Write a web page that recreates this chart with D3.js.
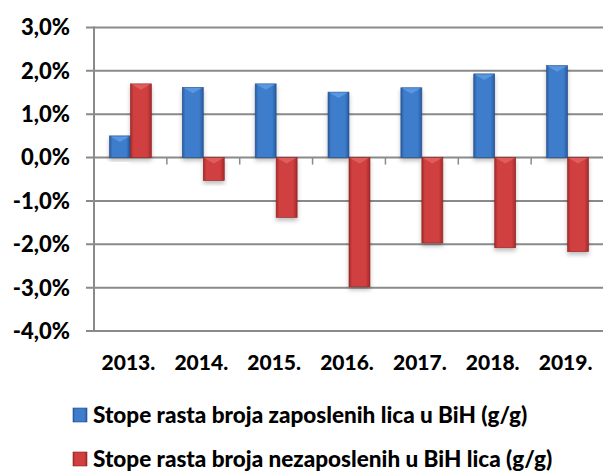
<!DOCTYPE html>
<html><head><meta charset="utf-8">
<script src="https://cdn.jsdelivr.net/npm/d3@7"></script>
<style>
html,body{margin:0;padding:0;background:#fff;}
svg{display:block;font-family:Lato,"Open Sans",sans-serif;font-weight:900;}
</style></head>
<body>
<svg id="c" width="603" height="473"></svg>
<script>
const years = ["2013.","2014.","2015.","2016.","2017.","2018.","2019."];
const employed = [0.5,1.62,1.7,1.51,1.61,1.93,2.12];
const unemployed = [1.7,-0.53,-1.38,-2.98,-1.97,-2.08,-2.17];
const seriesNames = ["Stope rasta broja zaposlenih lica u BiH (g/g)","Stope rasta broja nezaposlenih u BiH lica (g/g)"];
const yTicks = [3,2,1,0,-1,-2,-3,-4];

(function(){
const svg = d3.select("#c");
const defs = svg.append("defs");
function grad(id, edge, mid){
  const g = defs.append("linearGradient").attr("id",id).attr("x1","0").attr("x2","1").attr("y1","0").attr("y2","0");
  g.append("stop").attr("offset","0").attr("stop-color",edge);
  g.append("stop").attr("offset","0.15").attr("stop-color",mid);
  g.append("stop").attr("offset","0.8").attr("stop-color",mid);
  g.append("stop").attr("offset","1").attr("stop-color",edge);
}
grad("gb","#2a5a9e","#3d7dcc");
grad("gr","#a42a2a","#d13f3f");
const f = defs.append("filter").attr("id","sh").attr("x","-20%").attr("y","-20%").attr("width","140%").attr("height","140%");
f.append("feDropShadow").attr("dx",0).attr("dy",3).attr("stdDeviation",2).attr("flood-color","#000").attr("flood-opacity",0.25);

const pL = 94, pR = 604, pT = 27.5, pB = 331;
const y = d3.scaleLinear().domain([-4,3]).range([pB, pT]);
const x = d3.scaleBand().domain(years).range([pL,pR]).paddingInner(0.424).paddingOuter(0.212);
const xs = d3.scaleBand().domain([0,1]).range([0,x.bandwidth()]);

svg.append("g").selectAll("line").data(yTicks).join("line")
  .attr("x1",86).attr("x2",603).attr("y1",d=>y(d)).attr("y2",d=>y(d))
  .attr("stroke","#8a8a8a").attr("stroke-width",2);
svg.append("line").attr("x1",pL).attr("x2",pL).attr("y1",pT-1).attr("y2",pB+1)
  .attr("stroke","#8a8a8a").attr("stroke-width",2);
const bounds = years.map((d,i)=>pL + i*x.step()).slice(1);
svg.append("g").selectAll("line").data(bounds).join("line")
  .attr("x1",d=>d).attr("x2",d=>d).attr("y1",y(0)).attr("y2",y(0)+7)
  .attr("stroke","#8a8a8a").attr("stroke-width",1.5);

svg.append("g").selectAll("text").data(yTicks).join("text")
  .attr("x",70).attr("y",d=>y(d)).attr("dy","0.36em").attr("text-anchor","end")
  .attr("font-size",22).attr("fill","#000")
  .text(d=>d3.format(".1f")(d).replace(".",",").replace("−","-")+"%");

const data = years.map((yr,i)=>({yr, vals:[employed[i],unemployed[i]]}));
const fills = ["url(#gb)","url(#gr)"];
const tops = ["#5c9ae0","#e06060"];
const g = svg.append("g").selectAll("g").data(data).join("g").attr("transform",d=>`translate(${x(d.yr)},0)`);
g.selectAll("rect").data(d=>d.vals.map((v,k)=>({v,k}))).join("rect")
  .attr("x",d=>xs(d.k)).attr("width",xs.bandwidth())
  .attr("y",d=>y(Math.max(0,d.v))).attr("height",d=>Math.abs(y(d.v)-y(0)))
  .attr("fill",d=>fills[d.k]).attr("stroke",d=>d.k?"#8e2222":"#234f8c").attr("stroke-width",0.6)
  .attr("filter","url(#sh)");
g.selectAll("path").data(d=>d.vals.map((v,k)=>({v,k}))).join("path")
  .attr("d",d=>{const x0=xs(d.k), w=xs.bandwidth(), yy=y(Math.max(0,d.v)); const h=Math.min(6,Math.abs(y(d.v)-y(0))/2);
    return `M${x0+1},${yy+0.5}L${x0+w-1},${yy+0.5}L${x0+w/2},${yy+h}Z`;})
  .attr("fill",d=>tops[d.k]).attr("opacity",0.9);

svg.append("g").selectAll("text").data(years).join("text")
  .attr("x",d=>x(d)+x.bandwidth()/2-2).attr("y",370).attr("text-anchor","middle")
  .attr("font-size",21).attr("fill","#000").text(d=>d);

const leg = svg.append("g").selectAll("g").data(seriesNames).join("g")
  .attr("transform",(d,i)=>`translate(73,${408+i*44})`);
leg.append("rect").attr("width",14).attr("height",14).attr("fill",(d,i)=>fills[i]).attr("stroke",(d,i)=>i?"#8e2222":"#234f8c").attr("stroke-width",0.6);
leg.append("text").attr("x",20).attr("y",15).attr("font-size",22.5).attr("fill","#000").text(d=>d);
})();
</script>
</body></html>
